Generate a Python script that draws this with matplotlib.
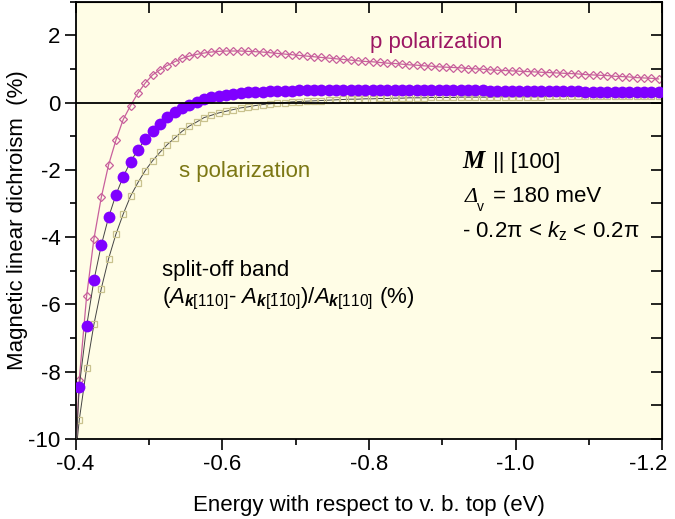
import matplotlib
matplotlib.use("Agg")
import matplotlib.pyplot as plt
from matplotlib.ticker import MultipleLocator
from matplotlib.transforms import ScaledTranslation

# ---------------- DATA ----------------
energy = [-0.400,
          -0.405, -0.415, -0.425, -0.435, -0.445, -0.455, -0.465, -0.475, -0.485, -0.495,
          -0.505, -0.515, -0.525, -0.535, -0.545, -0.555, -0.565, -0.575, -0.585, -0.595,
          -0.605, -0.615, -0.625, -0.635, -0.645, -0.655, -0.665, -0.675, -0.685, -0.695,
          -0.705, -0.715, -0.725, -0.735, -0.745, -0.755, -0.765, -0.775, -0.785, -0.795,
          -0.805, -0.815, -0.825, -0.835, -0.845, -0.855, -0.865, -0.875, -0.885, -0.895,
          -0.905, -0.915, -0.925, -0.935, -0.945, -0.955, -0.965, -0.975, -0.985, -0.995,
          -1.005, -1.015, -1.025, -1.035, -1.045, -1.055, -1.065, -1.075, -1.085, -1.095,
          -1.105, -1.115, -1.125, -1.135, -1.145, -1.155, -1.165, -1.175, -1.185, -1.195]

p_pol = [-10.5,
         -8.23, -5.76, -4.05, -2.82, -1.85, -1.12, -0.50, -0.09, 0.28, 0.58,
         0.82, 0.97, 1.10, 1.21, 1.31, 1.38, 1.43, 1.47, 1.50, 1.52,
         1.53, 1.53, 1.53, 1.52, 1.51, 1.50, 1.48, 1.46, 1.44, 1.42,
         1.40, 1.38, 1.36, 1.34, 1.32, 1.30, 1.28, 1.26, 1.24, 1.22,
         1.21, 1.19, 1.17, 1.16, 1.14, 1.12, 1.11, 1.09, 1.08, 1.06,
         1.05, 1.04, 1.03, 1.01, 1.00, 0.99, 0.97, 0.96, 0.95, 0.94,
         0.93, 0.92, 0.91, 0.90, 0.89, 0.88, 0.87, 0.86, 0.85, 0.83,
         0.82, 0.81, 0.80, 0.78, 0.77, 0.76, 0.74, 0.73, 0.72, 0.70]

avg_pol = [-10.5,
           -8.44, -6.65, -5.28, -4.24, -3.41, -2.74, -2.20, -1.76, -1.40, -1.09,
           -0.84, -0.65, -0.44, -0.28, -0.16, -0.06, 0.02, 0.09, 0.15, 0.19,
           0.23, 0.25, 0.28, 0.30, 0.31, 0.32, 0.33, 0.34, 0.35, 0.35,
           0.36, 0.36, 0.37, 0.37, 0.37, 0.38, 0.38, 0.38, 0.38, 0.38,
           0.38, 0.38, 0.38, 0.38, 0.38, 0.38, 0.38, 0.37, 0.37, 0.37,
           0.37, 0.37, 0.36, 0.36, 0.36, 0.36, 0.35, 0.35, 0.35, 0.35,
           0.34, 0.34, 0.34, 0.34, 0.33, 0.33, 0.33, 0.33, 0.33, 0.32,
           0.32, 0.32, 0.32, 0.31, 0.31, 0.31, 0.31, 0.31, 0.30, 0.30]

s_pol = [-10.5,
         -9.43, -7.89, -6.59, -5.53, -4.64, -3.91, -3.31, -2.78, -2.38, -2.02,
         -1.73, -1.48, -1.25, -1.06, -0.86, -0.70, -0.58, -0.45, -0.38, -0.31,
         -0.26, -0.21, -0.16, -0.13, -0.09, -0.06, -0.04, -0.02, 0.00, 0.02,
         0.03, 0.04, 0.05, 0.06, 0.07, 0.08, 0.09, 0.10, 0.10, 0.11,
         0.11, 0.12, 0.12, 0.13, 0.13, 0.14, 0.14, 0.14, 0.15, 0.15,
         0.15, 0.15, 0.16, 0.16, 0.16, 0.16, 0.16, 0.17, 0.17, 0.17,
         0.17, 0.17, 0.17, 0.17, 0.18, 0.18, 0.18, 0.18, 0.18, 0.18,
         0.18, 0.18, 0.18, 0.18, 0.18, 0.18, 0.18, 0.18, 0.18, 0.18]

x_ticks = [-0.4, -0.6, -0.8, -1.0, -1.2]
x_ticklabels = ["-0.4", "-0.6", "-0.8", "-1.0", "-1.2"]
y_ticks = [-10, -8, -6, -4, -2, 0, 2]

# ---------------- STYLE ----------------
plt.rcParams['font.family'] = ['Liberation Sans', 'DejaVu Sans']
plt.rcParams['mathtext.fontset'] = 'custom'
plt.rcParams['mathtext.rm'] = 'Liberation Sans'
plt.rcParams['mathtext.it'] = 'Liberation Sans:italic'
plt.rcParams['mathtext.bf'] = 'Liberation Sans:bold:italic'

FS = 16
P_COLOR = "#c8609c"
P_TEXT = "#9c1763"
S_EDGE = "#c9c28e"
S_TEXT = "#7c7714"
AVG_COLOR = "#7f00ff"
LINE_DARK = "#444444"

fig = plt.figure(figsize=(6.75, 5.19), dpi=100)
ax = fig.add_axes([0.112, 0.154, 0.869, 0.843])
ax.set_facecolor("#fffde6")

# ---------------- CURVES ----------------
ax.plot(energy, s_pol, color=LINE_DARK, lw=0.7, marker="s", ms=4.3,
        mfc="none", mec=S_EDGE, mew=0.9, zorder=2)
ax.plot(energy, p_pol, color=P_COLOR, lw=0.9, marker="D", ms=3.7,
        mfc="none", mec=P_COLOR, mew=0.9, zorder=2)
ax.plot(energy, avg_pol, color=LINE_DARK, lw=0.7, marker="o", ms=8.5,
        mfc=AVG_COLOR, mec=AVG_COLOR, mew=0, zorder=3)
ax.axhline(0, color="black", lw=1.3, zorder=4)

# ---------------- AXES ----------------
ax.set_xlim(-0.4, -1.2)
ax.set_ylim(-10, 3)
ax.set_xticks(x_ticks)
ax.set_xticklabels(x_ticklabels)
ax.set_yticks(y_ticks)
ax.set_yticklabels([str(v) for v in y_ticks])
ax.xaxis.set_minor_locator(MultipleLocator(0.1))
ax.yaxis.set_minor_locator(MultipleLocator(1))
ax.tick_params(which="major", direction="out", length=8, width=1.2,
               labelsize=FS, pad=3)
ax.tick_params(which="minor", direction="out", length=4, width=1.2)
for sp in ax.spines.values():
    sp.set_linewidth(1.3)

# last label is pulled inwards so it stays on the canvas
last = ax.get_xticklabels()[-1]
last.set_transform(last.get_transform() + ScaledTranslation(-10 / 72, 0, fig.dpi_scale_trans))

top = ax.secondary_xaxis("top")
top.set_xticks([-0.4, -0.5, -0.6, -0.7, -0.8, -0.9, -1.0, -1.1, -1.2])
top.tick_params(direction="in", length=8, width=1.2, labeltop=False)
right = ax.secondary_yaxis("right")
right.set_yticks([-10, -9, -8, -7, -6, -5, -4, -3, -2, -1, 0, 1, 2, 3])
right.tick_params(direction="in", length=8, width=1.2, labelright=False)

ax.set_xlabel("Energy with respect to v. b. top (eV)", fontsize=FS)
ax.set_ylabel("Magnetic linear dichroism  (%)", fontsize=FS)
ax.xaxis.set_label_coords(0.5, -0.128)
ax.yaxis.set_label_coords(-0.082, 0.5)

# ---------------- ANNOTATIONS ----------------
ax.text(0.502, 0.893, "p polarization", transform=ax.transAxes,
        fontsize=FS, color=P_TEXT, va="baseline")
ax.text(0.176, 0.600, "s polarization", transform=ax.transAxes,
        fontsize=FS, color=S_TEXT, va="baseline")
ax.text(0.148, 0.373, "split-off band", transform=ax.transAxes,
        fontsize=FS, va="baseline")
ax.text(0.148, 0.310,
        r"$(A_{\mathbf{k}\mathrm{[110]}}$- $A_{\mathbf{k}\mathrm{[\bar{1}\bar{1}0]}})/A_{\mathbf{k}\mathrm{[110]}}$ (%)",
        transform=ax.transAxes, fontsize=FS, va="baseline")
ax.text(0.659, 0.619, "M", transform=ax.transAxes, fontsize=FS + 2,
        family="Liberation Serif", weight="bold", style="italic", va="baseline")
ax.text(0.712, 0.619, "|| [100]", transform=ax.transAxes, fontsize=FS,
        va="baseline")
# italic delta with a small "v" below it, then the value
ax.text(0.664, 0.541, "\u0394", transform=ax.transAxes, fontsize=FS,
        family="Liberation Serif", style="italic", va="baseline")
ax.text(0.685, 0.522, "v", transform=ax.transAxes, fontsize=FS - 6,
        va="baseline")
ax.text(0.712, 0.541, "= 180 meV", transform=ax.transAxes, fontsize=FS,
        va="baseline")
ax.text(0.659, 0.461, r"- 0.2$\mathrm{\pi}$ < $k_{\mathrm{z}}$ < 0.2$\mathrm{\pi}$",
        transform=ax.transAxes, fontsize=FS, va="baseline")

fig.savefig("out.png", dpi=100)
plt.close(fig)
